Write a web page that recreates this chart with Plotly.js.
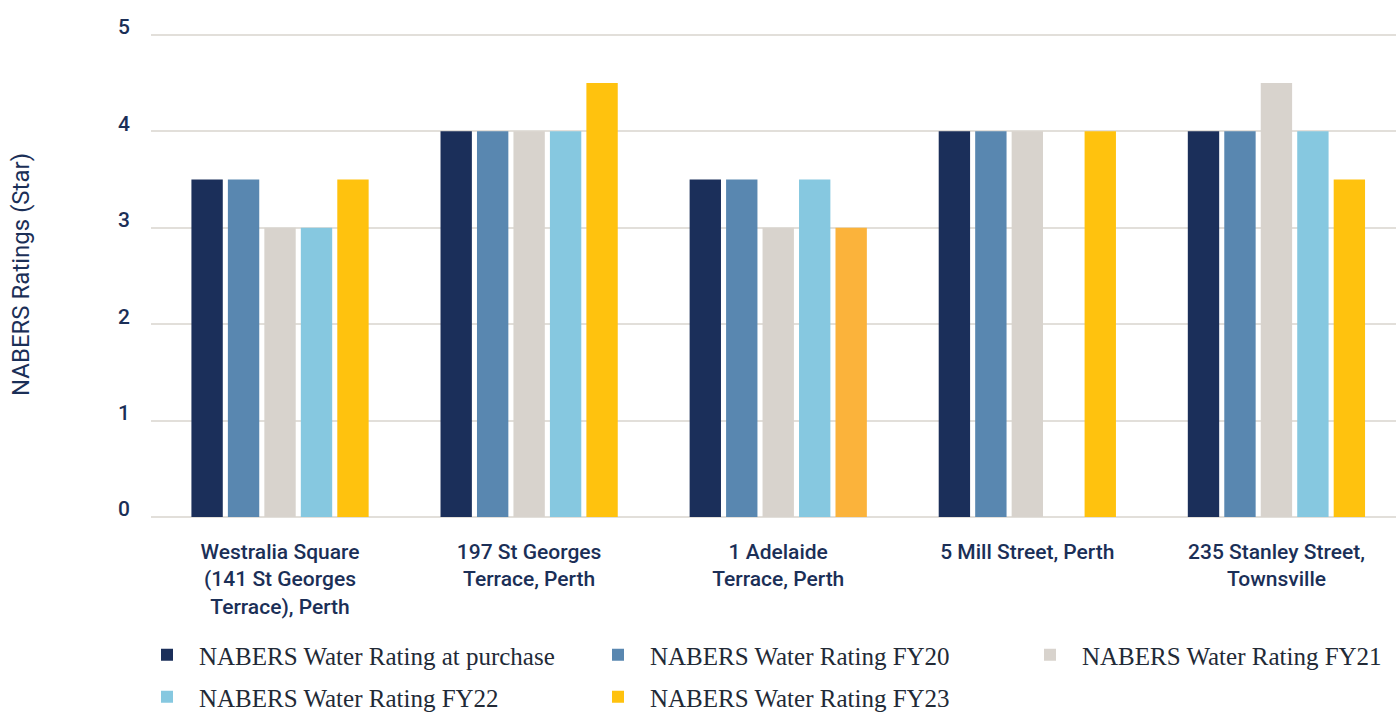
<!DOCTYPE html>
<html><head><meta charset="utf-8">
<script src="https://cdn.plot.ly/plotly-3.0.1.min.js"></script>
<style>html,body{margin:0;padding:0;background:#fff}#chart{width:1396px;height:713px}</style>
</head><body><div id="chart"></div>
<script>
const categories = [
  "Westralia Square<br>(141 St Georges<br>Terrace), Perth",
  "197 St Georges<br>Terrace, Perth",
  "1 Adelaide<br>Terrace, Perth",
  "5 Mill Street, Perth",
  "235 Stanley Street,<br>Townsville"
];
const seriesNames = [
  "NABERS Water Rating at purchase",
  "NABERS Water Rating FY20",
  "NABERS Water Rating FY21",
  "NABERS Water Rating FY22",
  "NABERS Water Rating FY23"
];
const ratingPurchase = [3.5, 4, 3.5, 4, 4];
const ratingFY20 = [3.5, 4, 3.5, 4, 4];
const ratingFY21 = [3, 4, 3, 4, 4.5];
const ratingFY22 = [3, 4, 3.5, null, 4];
const ratingFY23 = [3.5, 4.5, 3, 4, 3.5];
const yTicks = [0, 1, 2, 3, 4, 5];

const colors = ["#1B2F5A", "#5987B0", "#D8D3CD", "#86C8E0", ["#FFC20E", "#FFC20E", "#FBB33B", "#FFC20E", "#FFC20E"]];
const seriesValues = [ratingPurchase, ratingFY20, ratingFY21, ratingFY22, ratingFY23];
const legendIds = ["legend", "legend2", "legend3", "legend4", "legend5"];
// legend placement (container fractions)
const legendX = [135, 586, 1018, 135, 586].map(v => v / 1396);
const legendY = [632, 632, 632, 674, 674].map(v => 1 - v / 713);

const traces = seriesValues.map((vals, i) => ({
  type: "bar",
  name: seriesNames[i],
  x: categories,
  y: vals,
  marker: {color: colors[i]},
  legend: legendIds[i],
  hoverinfo: "x+y+name"
}));

const textColor = "#1B2F57";
const layout = {
  width: 1396, height: 713,
  margin: {l: 151, r: 0, t: 32, b: 196, autoexpand: false},
  paper_bgcolor: "#fff", plot_bgcolor: "#fff",
  barmode: "group",
  bargap: 0.268,
  bargroupgap: 0.14,
  font: {family: "Roboto", color: textColor},
  xaxis: {
    range: [-0.518, 4.48],
    tickfont: {family: "Roboto", size: 21, color: textColor, weight: 500},
    showgrid: false, showline: false, zeroline: false,
    ticklabelstandoff: 20
  },
  yaxis: {
    range: [0, 5.03],
    tickvals: yTicks,
    tickfont: {family: "Roboto", size: 21, color: textColor, weight: 500},
    showgrid: true, gridcolor: "#E2DFDA", gridwidth: 1.5,
    zeroline: true, zerolinecolor: "#E2DFDA", zerolinewidth: 1.5,
    showline: false,
    ticklabelstandoff: 20,
    ticklabelshift: -8,
    title: {text: "NABERS Ratings (Star)", font: {family: "Roboto", size: 24, color: textColor}, standoff: 81}
  },
  showlegend: true
};
legendIds.forEach((id, i) => {
  layout[id] = {
    orientation: "h",
    xref: "container", yref: "container",
    x: legendX[i], xanchor: "left",
    y: legendY[i], yanchor: "top",
    font: {family: "Liberation Serif", size: 25, color: "#222A36"},
    itemwidth: 54,
    bgcolor: "rgba(0,0,0,0)"
  };
});

Plotly.newPlot("chart", traces, layout, {displayModeBar: false, responsive: false});
</script>
</body></html>
